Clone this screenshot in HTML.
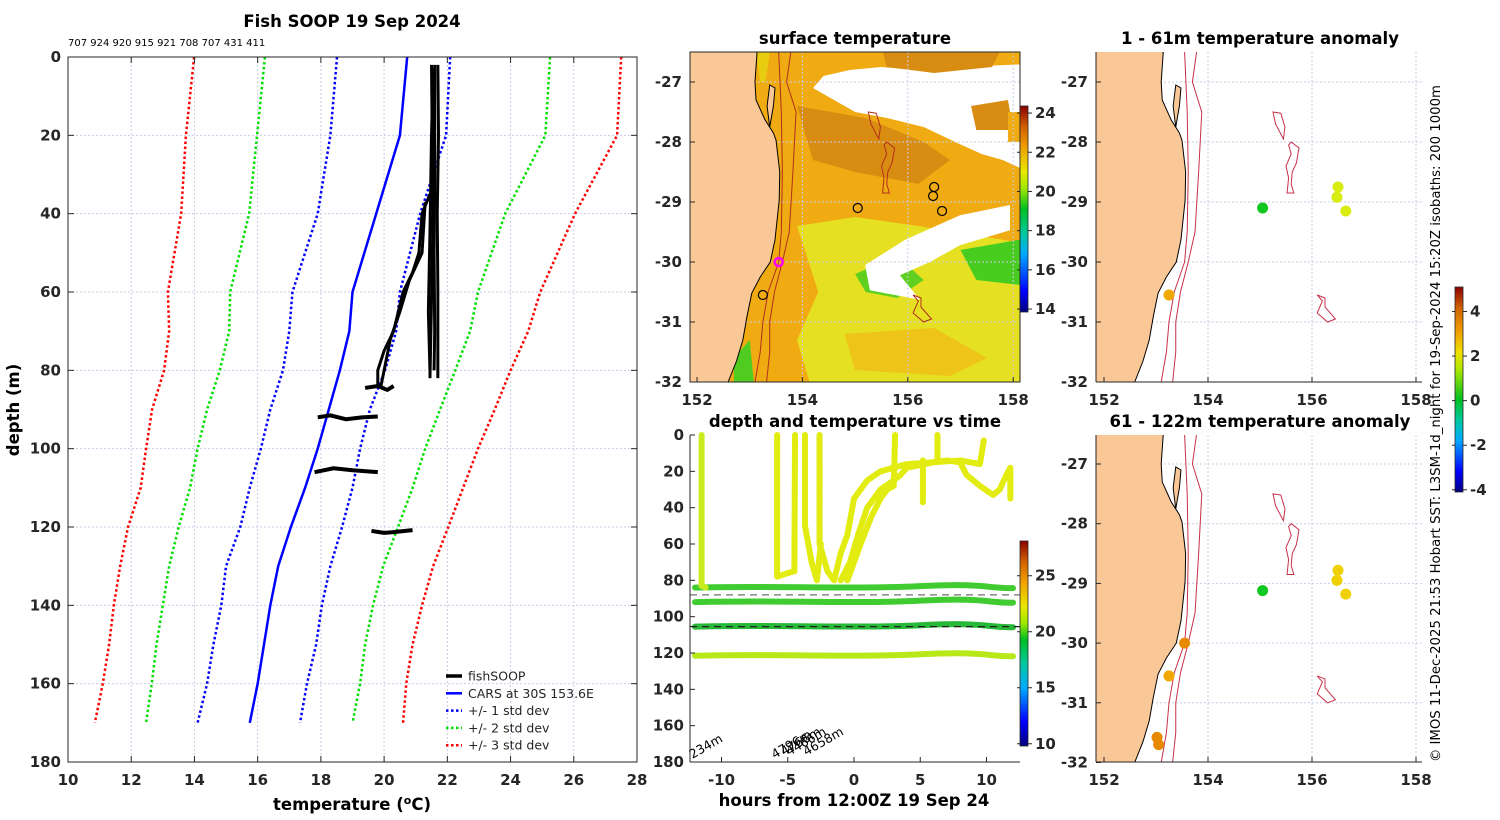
<!DOCTYPE html>
<html><head><meta charset="utf-8"><style>
html,body{margin:0;padding:0;background:#fff;}
svg{display:block;font-family:"DejaVu Sans","Liberation Sans",sans-serif;}
.tk{font-size:15px;font-weight:bold;fill:#262626;}
.ti{font-size:16.5px;font-weight:bold;fill:#000;}
</style></head><body>
<svg id="fig" width="1500" height="820" viewBox="0 0 1500 820" xmlns="http://www.w3.org/2000/svg">
<defs>
<linearGradient id="jetSST" x1="0" y1="1" x2="0" y2="0">
<stop offset="0" stop-color="#00007f"/><stop offset="0.1" stop-color="#0000ff"/><stop offset="0.28" stop-color="#00a8ff"/><stop offset="0.38" stop-color="#00c8a0"/><stop offset="0.5" stop-color="#00c020"/><stop offset="0.6" stop-color="#a0e800"/><stop offset="0.68" stop-color="#e8e800"/><stop offset="0.8" stop-color="#f0a000"/><stop offset="0.9" stop-color="#d06000"/><stop offset="1" stop-color="#8b0000"/>
</linearGradient>
<linearGradient id="jetT" x1="0" y1="1" x2="0" y2="0">
<stop offset="0" stop-color="#00007f"/><stop offset="0.12" stop-color="#0000ff"/><stop offset="0.28" stop-color="#00a8ff"/><stop offset="0.4" stop-color="#00c8a0"/><stop offset="0.52" stop-color="#00c020"/><stop offset="0.6" stop-color="#a0e800"/><stop offset="0.68" stop-color="#e8e800"/><stop offset="0.8" stop-color="#f0a000"/><stop offset="0.9" stop-color="#d06000"/><stop offset="1" stop-color="#8b0000"/>
</linearGradient>
<linearGradient id="jetA" x1="0" y1="1" x2="0" y2="0">
<stop offset="0" stop-color="#00007f"/><stop offset="0.1" stop-color="#0000ff"/><stop offset="0.25" stop-color="#00a8ff"/><stop offset="0.35" stop-color="#00c8a0"/><stop offset="0.45" stop-color="#00c020"/><stop offset="0.6" stop-color="#b0e800"/><stop offset="0.68" stop-color="#f0e000"/><stop offset="0.78" stop-color="#f0a000"/><stop offset="0.9" stop-color="#d06000"/><stop offset="1" stop-color="#8b0000"/>
</linearGradient>
<clipPath id="clipMid"><rect x="690" y="52" width="330" height="330"/></clipPath>
<clipPath id="clipRT"><rect x="1096" y="52" width="326" height="330"/></clipPath>
<clipPath id="clipRB"><rect x="1096" y="435" width="326" height="327"/></clipPath>
</defs>
<g id="root"></g>
</svg>
<script>
// ---------- Profile chart data ----------
const profDepths = [0,20,40,60,70,80,90,100,110,120,130,140,150,160,170];
const carsDepths = [0,20,60,70,80,100,110,120,130,140,150,160,170];
const carsTemp = [20.73,20.5,19.0,18.9,18.6,17.9,17.5,17.05,16.65,16.4,16.2,16.0,15.75];
const minus1 = [18.51,18.3,17.9,17.1,17.0,16.8,16.4,16.1,15.75,15.45,15.0,14.85,14.6,14.4,14.1];
const plus1 = [22.09,21.96,21.14,20.5,20.38,20.03,19.55,19.24,19.0,18.67,18.3,18.03,17.85,17.56,17.34];
const minus2 = [16.23,15.98,15.73,15.13,15.1,14.8,14.4,14.1,13.86,13.5,13.2,13.0,12.8,12.65,12.47];
const plus2 = [25.25,25.1,23.83,22.97,22.72,22.25,21.77,21.3,20.9,20.44,19.97,19.65,19.4,19.24,19.0];
const minus3 = [13.99,13.73,13.58,13.16,13.2,13.04,12.66,12.47,12.3,11.9,11.65,11.45,11.3,11.1,10.85];
const plus3 = [27.5,27.37,26.04,24.94,24.56,24.0,23.5,22.97,22.5,22.03,21.55,21.2,20.9,20.7,20.6];
const fishTemps = [
 [21.5,21.52,21.55,21.48,21.45],[21.7,21.72,21.68,21.7,21.7],[21.6,21.6,21.58,21.6,21.58],[21.55,21.5,21.45,21.4,21.45],
 [21.45,21.2,21.1,20.9,20.6,20.3,20.0,19.8,19.8],[21.3,21.2,20.8,20.5,20.2,19.9],
 [19.4,19.8,20.1,20.3],[17.9,18.3,18.8,19.3,19.8],[17.8,18.4,19.0,19.8],[19.6,20.0,20.3,20.9]];
const fishDepths = [
 [2,20,40,70,82],[2,20,40,60,82],[2,30,50,70,80],[3,20,45,65,80],
 [35,40,50,55,60,70,75,80,84],[37,50,57,65,72,84],
 [84.5,84,85,84],[92,91.5,92.5,92,91.8],[106,105,105.5,106],[121,121.5,121.3,120.8]];
const profXTicks = [10,12,14,16,18,20,22,24,26,28];
const profYTicks = [0,20,40,60,80,100,120,140,160,180];

// ---------- Time chart data ----------
const traceTimes = [
 [-11.5,-11.5,-11.2],[-5.8,-5.8,-5.0,-4.5,-4.45],[-3.7,-3.7,-3.2,-2.8,-2.5],
 [-2.6,-2.6,-2,-1.5,-1,-0.5,0,1,2,4,8,9.5,9.8],
 [-1,-0.3,0.3,1,2,3,3.5,4,6,7,8,8.5,9.5,10.5,11,11.5,11.8,11.8],
 [-0.5,0.5,1.3,2,2.5,3,3.1],[5.2,5.2],[6.3,6.3]];
const traceDepths = [
 [0,83,84],[0,78,76,75,0],[0,50,70,80,60],
 [0,60,75,80,65,55,35,25,20,16,14,16,3],
 [80,70,55,40,30,25,22,18,15,14,15,22,28,33,30,22,18,35],
 [80,60,45,35,30,28,0],[14,37],[0,15]];
const bandDepths = [84,92,105.5,121.5];
const bandTemps = [19.6,19.8,19.3,20.6];
const dashDepths = [88,105.5];
const bathyLabels = ["234m","4796m","4766m","4466m","4658m"];
const bathyTimes = [-12.2,-6.0,-5.3,-4.9,-3.6];
const timeXTicks = [-10,-5,0,5,10];

// ---------- Map data ----------
const coastLon = [153.14,153.10,153.12,153.29,153.45,153.50,153.57,153.56,153.48,153.39,153.2,153.04,152.95,152.87,152.75,152.59];
const coastLat = [-26.5,-27.0,-27.3,-27.63,-27.85,-27.97,-28.5,-28.97,-29.63,-30.0,-30.25,-30.52,-30.9,-31.3,-31.65,-32.0];
const islandLon = [153.38,153.48,153.45,153.38,153.33];
const islandLat = [-27.05,-27.1,-27.4,-27.75,-27.4];
const iso200Lon = [153.55,153.6,153.62,153.6,153.55,153.35,153.25,153.2,153.1];
const iso200Lat = [-26.5,-27.5,-28.5,-29.5,-30,-30.5,-31,-31.5,-32];
const iso1000Lon = [153.78,153.7,153.88,153.82,153.75,153.62,153.47,153.38,153.38,153.32];
const iso1000Lat = [-26.5,-27,-27.5,-28.5,-29.5,-30,-30.5,-31,-31.5,-32];
const smLon = [[155.25,155.4,155.48,155.45,155.3],[155.6,155.75,155.7,155.62,155.6,155.65,155.52,155.55,155.5,155.6,155.55],[156.1,156.25,156.25,156.45,156.3,156.1,156.2]];
const smLat = [[-27.5,-27.52,-27.75,-27.95,-27.7],[-28.0,-28.1,-28.35,-28.5,-28.7,-28.85,-28.85,-28.6,-28.4,-28.2,-28.05],[-30.55,-30.6,-30.75,-30.95,-31.0,-30.85,-30.65]];
const floatLon = [155.05,156.5,156.48,156.65,153.25];
const floatLat = [-29.1,-28.75,-28.9,-29.15,-30.55];
const anomTopLon = [155.05,156.5,156.48,156.65,153.25];
const anomTopLat = [-29.1,-28.75,-28.92,-29.15,-30.55];
const anomTopVal = [0.3,1.8,1.6,1.4,2.8];
const anomBotLon = [155.05,156.5,156.48,156.65,153.55,153.25,153.02,153.05];
const anomBotLat = [-29.12,-28.78,-28.95,-29.18,-30.0,-30.55,-31.58,-31.7];
const anomBotVal = [0.6,2.4,2.3,2.2,3.3,3.0,3.2,3.2];
const latTicks = [-27,-28,-29,-30,-31,-32];
const lonTicks = [152,154,156,158];

const NS='http://www.w3.org/2000/svg';
const root=document.getElementById('root');
function mk(tag,attrs,parent){const e=document.createElementNS(NS,tag);for(const k in attrs)e.setAttribute(k,attrs[k]);(parent||root).appendChild(e);return e;}
function txt(s,attrs,parent){const e=mk('text',attrs,parent);e.textContent=s;return e;}

// ===== Profile chart =====
const P={x0:68,x1:637,y0:57,y1:762};
const px=t=>P.x0+(t-10)/18*(P.x1-P.x0);
const py=d=>P.y0+d/180*(P.y1-P.y0);
const gP=mk('g',{});


profXTicks.forEach(v=>{mk('line',{x1:px(v),x2:px(v),y1:P.y0,y2:P.y1,stroke:'#c8cde6','stroke-dasharray':'2 2','stroke-width':1},gP);});
profYTicks.forEach(v=>{mk('line',{x1:P.x0,x2:P.x1,y1:py(v),y2:py(v),stroke:'#c8cde6','stroke-dasharray':'2 2','stroke-width':1},gP);});
function poly(xs,ys,style,name,parent,fx,fy){const pts=xs.map((x,i)=>fx(x)+','+fy(ys[i])).join(' ');const e=mk('polyline',Object.assign({points:pts,fill:'none'},style),parent);return e;}
const dot={'stroke-width':2.5,'stroke-dasharray':'2.5 2.5'};
poly(minus3,profDepths,Object.assign({stroke:'#ff0000'},dot),'minus-3-std-line',gP,px,py);
poly(plus3,profDepths,Object.assign({stroke:'#ff0000'},dot),'plus-3-std-line',gP,px,py);
poly(minus2,profDepths,Object.assign({stroke:'#00e000'},dot),'minus-2-std-line',gP,px,py);
poly(plus2,profDepths,Object.assign({stroke:'#00e000'},dot),'plus-2-std-line',gP,px,py);
poly(minus1,profDepths,Object.assign({stroke:'#0000ff'},dot),'minus-1-std-line',gP,px,py);
poly(plus1,profDepths,Object.assign({stroke:'#0000ff'},dot),'plus-1-std-line',gP,px,py);
poly(carsTemp,carsDepths,{stroke:'#0000ff','stroke-width':2.5},'cars-mean-line',gP,px,py);
fishTemps.forEach((t,i)=>{poly(t,fishDepths[i],{stroke:'#000','stroke-width':i>=6?4:3,'stroke-linejoin':'round'},'fishsoop-profile',gP,px,py);});
mk('rect',{x:P.x0,y:P.y0,width:P.x1-P.x0,height:P.y1-P.y0,fill:'none',stroke:'#262626','stroke-width':1},gP);
profXTicks.forEach(v=>{mk('line',{x1:px(v),x2:px(v),y1:P.y1,y2:P.y1-6,stroke:'#262626'},gP);mk('line',{x1:px(v),x2:px(v),y1:P.y0,y2:P.y0+6,stroke:'#262626'},gP);
 const t=txt(String(v),{x:px(v),y:785,'text-anchor':'middle',class:'tk'},gP);});
profYTicks.forEach(v=>{mk('line',{x1:P.x0,x2:P.x0+6,y1:py(v),y2:py(v),stroke:'#262626'},gP);mk('line',{x1:P.x1,x2:P.x1-6,y1:py(v),y2:py(v),stroke:'#262626'},gP);
 const t=txt(String(v),{x:61,y:py(v)+5,'text-anchor':'end',class:'tk'},gP);});
const legItems=[['fishSOOP','#000',null,3.5],['CARS at 30S 153.6E','#0000ff',null,2.5],['+/- 1 std dev','#0000ff','2.5 2.5',2.5],['+/- 2 std dev','#00e000','2.5 2.5',2.5],['+/- 3 std dev','#ff0000','2.5 2.5',2.5]];
const gL=mk('g',{},gP);
legItems.forEach((it,i)=>{const y=676+i*17.3;const l=mk('line',{x1:446,x2:462,y1:y,y2:y,stroke:it[1],'stroke-width':it[3]},gL);if(it[2])l.setAttribute('stroke-dasharray',it[2]);
 const t=txt(it[0],{x:468,y:y+4.5,'font-size':'12.5px',fill:'#262626'},gL);});

// ===== Time chart =====
const T={x0:690,x1:1020,y0:435,y1:762};
const tx=h=>854+h*13.25;
const ty=d=>T.y0+d/180*(T.y1-T.y0);
const gT=mk('g',{});
bandDepths.forEach((d,i)=>{const c=bandTemps[i]>20.3?'#b8e818':(bandTemps[i]>19.5?'#40cc30':'#28b838');
 const e=mk('path',{d:`M${tx(-12)},${ty(d)} C${tx(-6)},${ty(d-1.2)} ${tx(0)},${ty(d+1)} ${tx(5)},${ty(d-0.8)} S${tx(10)},${ty(d+0.5)} ${tx(12)},${ty(d+0.3)}`,fill:'none',stroke:c,'stroke-width':6,'stroke-linecap':'round'},gT);
 });
traceTimes.forEach((ts,i)=>{poly(ts,traceDepths[i],{stroke:i==0?'#c8ec20':'#e2ec10','stroke-width':6,'stroke-linejoin':'round','stroke-linecap':'round'},'depth-trace',gT,tx,ty);});
dashDepths.forEach((d,i)=>{const e=mk('line',{x1:T.x0,x2:T.x1,y1:ty(d),y2:ty(d),stroke:i==0?'#707070':'#202020','stroke-width':1.3,'stroke-dasharray':'7 5'},gT);});
bathyLabels.forEach((s,i)=>{const x=tx(bathyTimes[i]),y=759-(i>=2?3:0);const t=txt(s,{x:x,y:y,'font-size':'12.5px',fill:'#000',transform:`rotate(-30 ${x} ${y})`},gT);});
mk('line',{x1:T.x0,x2:T.x0,y1:T.y0,y2:T.y1,stroke:'#262626'},gT);
mk('line',{x1:T.x0,x2:T.x1,y1:T.y1,y2:T.y1,stroke:'#262626'},gT);
profYTicks.forEach(v=>{mk('line',{x1:T.x0,x2:T.x0+5,y1:ty(v),y2:ty(v),stroke:'#262626'},gT);const t=txt(String(v),{x:684,y:ty(v)+5,'text-anchor':'end',class:'tk'},gT);});
timeXTicks.forEach(v=>{mk('line',{x1:tx(v),x2:tx(v),y1:T.y1,y2:T.y1-5,stroke:'#262626'},gT);const t=txt(String(v),{x:tx(v),y:785,'text-anchor':'middle',class:'tk'},gT);});

// ===== Maps =====
function mapProj(ax,kx,by,ky){return [lon=>ax+(lon-152)*kx, lat=>by+(-27-lat)*ky];}
const sstShapes=[
 ['#e6e022',[[153.9,-29.4],[155,-29.25],[156.2,-29.4],[158.3,-29.7],[158.3,-32.2],[154.2,-32.2],[153.9,-31.3],[154.3,-30.5]]],
 ['#eec418',[[154.8,-31.2],[156.5,-31.1],[157.5,-31.6],[156.8,-31.9],[155,-31.8]]],
 ['#d98c12',[[153.9,-27.4],[155.2,-27.6],[156.3,-28.0],[156.8,-28.3],[156.2,-28.7],[155,-28.5],[154.2,-28.3]]],
 ['#e8cc10',[[153.1,-26.4],[153.4,-26.4],[153.3,-27.0],[153.2,-27.0]]],
 ['#60d020',[[155.0,-30.2],[155.8,-29.9],[156.3,-30.3],[155.8,-30.6],[155.2,-30.5]]],
 ['#48cc20',[[157.0,-29.8],[158.3,-29.6],[158.3,-30.4],[157.3,-30.3]]],
 ['#50cc20',[[152.7,-31.6],[153.0,-31.3],[153.1,-32.2],[152.7,-32.2]]],
 ['#ffffff',[[154.4,-26.9],[154.9,-26.8],[155.5,-26.75],[156.2,-26.8],[157.0,-26.75],[158.3,-26.7],[158.3,-28.5],[157.8,-28.3],[157.4,-28.2],[156.9,-28.0],[156.3,-27.75],[155.6,-27.6],[155.0,-27.5],[154.6,-27.3],[154.2,-27.1]]],
 ['#d98c12',[[155.5,-26.4],[157.8,-26.4],[157.6,-26.75],[156.5,-26.85],[155.6,-26.75]]],
 ['#d98c12',[[157.2,-27.4],[157.9,-27.3],[158.0,-27.8],[157.3,-27.8]]],
 ['#f0aa12',[[157.9,-27.5],[158.3,-27.5],[158.3,-28.0],[157.9,-28.0]]],
 ['#ffffff',[[155.95,-29.63],[156.99,-29.22],[157.94,-29.05],[157.94,-29.47],[156.99,-29.72],[156.42,-30.0],[155.85,-30.22],[156.23,-30.63],[155.28,-30.47],[155.19,-30.05]]]
];
function drawMap(cfg){
 const [fx,fy]=mapProj(cfg.ax,cfg.kx,cfg.by,cfg.ky);
 const g=mk('g',{});
 const c=mk('g',{'clip-path':`url(#${cfg.clip})`},g);
 if(cfg.sst){
  mk('rect',{x:cfg.x0,y:cfg.y0,width:cfg.x1-cfg.x0,height:cfg.y1-cfg.y0,fill:'#f0aa12'},c);
  sstShapes.forEach(s=>{const e=mk('polygon',{points:s[1].map(p=>fx(p[0])+','+fy(p[1])).join(' ')},c);e.style.fill=s[0];});
 }
 lonTicks.forEach(v=>mk('line',{x1:fx(v),x2:fx(v),y1:cfg.y0,y2:cfg.y1,stroke:'#c8cde6','stroke-dasharray':'2 2'},c));
 latTicks.forEach(v=>mk('line',{x1:cfg.x0,x2:cfg.x1,y1:fy(v),y2:fy(v),stroke:'#c8cde6','stroke-dasharray':'2 2'},c));
 const lp=coastLon.map((l,i)=>fx(l)+','+fy(coastLat[i])).join(' ')+` ${fx(151)},${fy(-32.5)} ${fx(151)},${fy(-26)}`;
 const land=mk('polygon',{points:lp,fill:'#fac896',stroke:'#000','stroke-width':1},c);
 mk('polygon',{points:islandLon.map((l,i)=>fx(l)+','+fy(islandLat[i])).join(' '),fill:'#fac896',stroke:'#000','stroke-width':1},c);
 const isoC=cfg.sst?'#b0301c':'#c83048';
 poly(iso200Lon,iso200Lat,{stroke:isoC,'stroke-width':1},'isobath-200m',c,fx,fy);
 poly(iso1000Lon,iso1000Lat,{stroke:isoC,'stroke-width':1},'isobath-1000m',c,fx,fy);
 smLon.forEach((s,i)=>{const e=mk('polygon',{points:s.map((l,j)=>fx(l)+','+fy(smLat[i][j])).join(' '),fill:'none',stroke:isoC,'stroke-width':1},c);});
 if(cfg.sst){
  floatLon.forEach((l,i)=>{const e=mk('circle',{cx:fx(l),cy:fy(floatLat[i]),r:4.5,fill:'none',stroke:'#000','stroke-width':1.2},c);});
  const m=mk('circle',{cx:fx(153.55),cy:fy(-30.0),r:4,fill:'none',stroke:'#ff00ff','stroke-width':2.5},c);
 }
 if(cfg.anLon){
  cfg.anLon.forEach((l,i)=>{const v=cfg.anVal[i];const col=v<1?'#10c820':v<2?'#d8ec10':v<2.7?'#f0d000':v<3.1?'#f0a800':'#e88a00';
   const e=mk('circle',{cx:fx(l),cy:fy(cfg.anLat[i]),r:5.5,fill:col},c);});
 }
 if(cfg.box) mk('rect',{x:cfg.x0,y:cfg.y0,width:cfg.x1-cfg.x0,height:cfg.y1-cfg.y0,fill:'none',stroke:'#262626'},g);
 else {mk('line',{x1:cfg.x0,x2:cfg.x1,y1:cfg.y1,y2:cfg.y1,stroke:'#262626'},g);mk('line',{x1:cfg.x0,x2:cfg.x0,y1:cfg.y0,y2:cfg.y1,stroke:'#262626'},g);}
 lonTicks.forEach(v=>{mk('line',{x1:fx(v),x2:fx(v),y1:cfg.y1,y2:cfg.y1-5,stroke:'#262626'},g);const t=txt(String(v),{x:fx(v),y:cfg.y1+23,'text-anchor':'middle',class:'tk'},g);});
 latTicks.forEach(v=>{if(fy(v)<cfg.y0-1||fy(v)>cfg.y1+1)return;mk('line',{x1:cfg.x0,x2:cfg.x0+5,y1:fy(v),y2:fy(v),stroke:'#262626'},g);const t=txt(String(v),{x:cfg.x0-8,y:fy(v)+5,'text-anchor':'end',class:'tk'},g);});
}
drawMap({name:'surface-temperature-map',ax:697,kx:52.7,by:82,ky:60,x0:690,x1:1020,y0:52,y1:382,clip:'clipMid',sst:true,box:true});
drawMap({name:'anomaly-map-1-61m',ax:1104,kx:52,by:82,ky:60,x0:1096,x1:1422,y0:52,y1:382,clip:'clipRT',anLon:anomTopLon,anLat:anomTopLat,anVal:anomTopVal});
drawMap({name:'anomaly-map-61-122m',ax:1104,kx:52,by:464,ky:59.7,x0:1096,x1:1422,y0:435,y1:762,clip:'clipRB',anLon:anomBotLon,anLat:anomBotLat,anVal:anomBotVal});

// ===== Colorbars =====
function cbar(name,x,y0,y1,vmin,vmax,grad,ticks){
 const g=mk('g',{});
 mk('rect',{x:x,y:y0,width:8,height:y1-y0,fill:`url(#${grad})`,stroke:'#262626','stroke-width':0.8},g);
 ticks.forEach(v=>{const y=y1-(v-vmin)/(vmax-vmin)*(y1-y0);mk('line',{x1:x+8,x2:x+12,y1:y,y2:y,stroke:'#262626'},g);mk('line',{x1:x-3,x2:x,y1:y,y2:y,stroke:'#262626'},g);
  const t=txt(String(v),{x:x+15,y:y+5,class:'tk','font-size':'14px'},g);});
}
cbar('sst-colorbar',1020,106,312,13.85,24.36,'jetSST',[14,16,18,20,22,24]);
cbar('temperature-colorbar',1020,541,746,9.8,28.1,'jetT',[10,15,20,25]);
cbar('anomaly-colorbar',1455,287,492,-4.1,5.1,'jetA',[-4,-2,0,2,4]);

// ===== Titles and labels =====
function lab(s,attrs,name){const t=txt(s,attrs);return t;}
lab('Fish SOOP 19 Sep 2024',{x:352,y:27,'text-anchor':'middle',class:'ti','font-size':'17px'},'main-title');
lab('707 924 920 915 921 708 707 431 411',{x:68,y:46,'font-size':'10px',fill:'#000'},'profile-counts');
lab('surface temperature',{x:855,y:44,'text-anchor':'middle',class:'ti'},'sst-map-title');
lab('1 - 61m temperature anomaly',{x:1260,y:44,'text-anchor':'middle',class:'ti'},'anomaly-top-title');
lab('depth and temperature vs time',{x:855,y:427,'text-anchor':'middle',class:'ti'},'time-chart-title');
lab('61 - 122m temperature anomaly',{x:1260,y:427,'text-anchor':'middle',class:'ti'},'anomaly-bottom-title');
lab('depth (m)',{x:19,y:410,'text-anchor':'middle',class:'ti','font-size':'16px',transform:'rotate(-90 19 410)'},'y-axis-title');
const xt=lab('',{x:352,y:810,'text-anchor':'middle',class:'ti','font-size':'16px'},'x-axis-title');
const s1=document.createElementNS(NS,'tspan');s1.textContent='temperature (';xt.appendChild(s1);
const s2=document.createElementNS(NS,'tspan');s2.setAttribute('dy','-6');s2.setAttribute('font-size','11px');s2.textContent='o';xt.appendChild(s2);
const s3=document.createElementNS(NS,'tspan');s3.setAttribute('dy','6');s3.textContent='C)';xt.appendChild(s3);
lab('hours from 12:00Z 19 Sep 24',{x:854,y:806,'text-anchor':'middle',class:'ti','font-size':'16px'},'time-axis-title');
lab('© IMOS 11-Dec-2025 21:53 Hobart SST: L3SM-1d_night for 19-Sep-2024 15:20Z isobaths: 200  1000m',{x:1440,y:762,'font-size':'13px',fill:'#000',transform:'rotate(-90 1440 762)',textLength:677,lengthAdjust:'spacingAndGlyphs'},'credit-text');
</script>
</body></html>
